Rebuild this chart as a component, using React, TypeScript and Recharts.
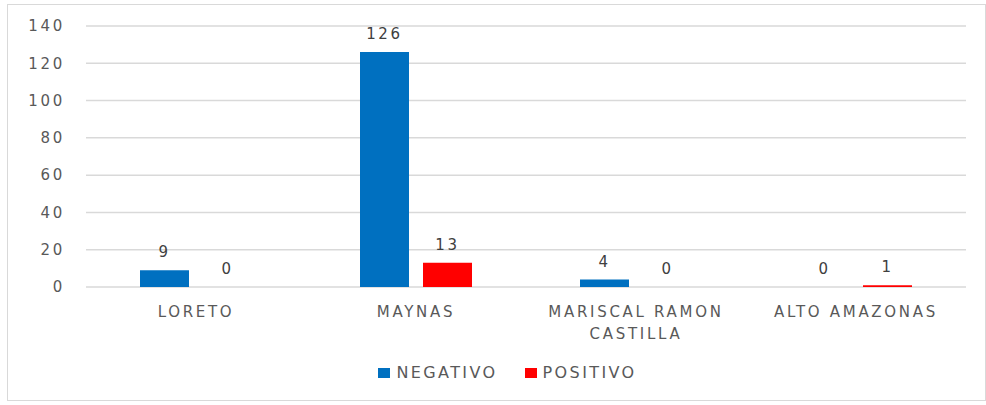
import React from 'react';
import { BarChart, Bar, XAxis, YAxis, CartesianGrid, Legend, LabelList, Text } from 'recharts';

const categories = ['LORETO', 'MAYNAS', 'MARISCAL RAMON CASTILLA', 'ALTO AMAZONAS'];
const negativo = [9, 126, 4, 0];
const positivo = [0, 13, 0, 1];
const yTicks = [0, 20, 40, 60, 80, 100, 120, 140];

const data = categories.map((name, i) => ({ name, NEGATIVO: negativo[i], POSITIVO: positivo[i] }));

const FONT = '"DejaVu Sans", sans-serif';
const TEXT = '#595959';
const LS = 2.7;

const XTick = (props: any) => {
  const { x, y, payload } = props;
  return (
    <Text
      x={x}
      y={y}
      width={190}
      textAnchor="middle"
      verticalAnchor="start"
      lineHeight={22}
      fill={TEXT}
      style={{ fontFamily: FONT, fontSize: 15, letterSpacing: LS }}
    >
      {payload.value}
    </Text>
  );
};

const LegendContent = (props: any) => {
  const { payload } = props;
  return (
    <div style={{ display: 'flex', justifyContent: 'center', marginLeft: 22, gap: 27, fontFamily: FONT, fontSize: 16, letterSpacing: 2.4, color: TEXT, lineHeight: '20px' }}>
      {payload.map((p: any) => (
        <div key={p.value} style={{ display: 'flex', alignItems: 'center' }}>
          <span style={{ display: 'inline-block', width: 12, height: 10, background: p.color, marginRight: 6 }} />
          <span>{p.value}</span>
        </div>
      ))}
    </div>
  );
};

const fmt = (v: any) => String(v);
const minSize = (v: any) => (v === 0 ? 0.001 : 0);

export default function App() {
  return (
    <div style={{ position: 'absolute', left: 7, top: 4, width: 977, height: 395, border: '1px solid #D9D9D9', background: '#fff' }}>
      <BarChart
        width={977}
        height={395}
        data={data}
        margin={{ top: 21, right: 19, bottom: 0, left: 0 }}
        barSize={49}
        barGap={14}
      >
        <CartesianGrid vertical={false} stroke="#D9D9D9" strokeWidth={1.5} />
        <XAxis
          dataKey="name"
          axisLine={false}
          tickLine={false}
          tickSize={0}
          tickMargin={19}
          height={93}
          interval={0}
          tick={<XTick />}
        />
        <YAxis
          domain={[0, 140]}
          ticks={yTicks}
          axisLine={false}
          tickLine={false}
          tickSize={0}
          tickMargin={21}
          width={78}
          tick={{ fill: TEXT, fontSize: 15, fontFamily: FONT, letterSpacing: LS }}
        />
        <Legend
          content={<LegendContent />}
          verticalAlign="bottom"
          height={20}
          wrapperStyle={{ top: 358, bottom: 'auto', left: 0, width: 977 }}
        />
        <Bar dataKey="NEGATIVO" fill="#0070C0" isAnimationActive={false} minPointSize={minSize}>
          <LabelList dataKey="NEGATIVO" position="top" offset={13} fill="#404040" formatter={fmt} style={{ fontFamily: FONT, fontSize: 15, letterSpacing: LS }} />
        </Bar>
        <Bar dataKey="POSITIVO" fill="#FF0000" isAnimationActive={false} minPointSize={minSize}>
          <LabelList dataKey="POSITIVO" position="top" offset={13} fill="#404040" formatter={fmt} style={{ fontFamily: FONT, fontSize: 15, letterSpacing: LS }} />
        </Bar>
      </BarChart>
    </div>
  );
}
